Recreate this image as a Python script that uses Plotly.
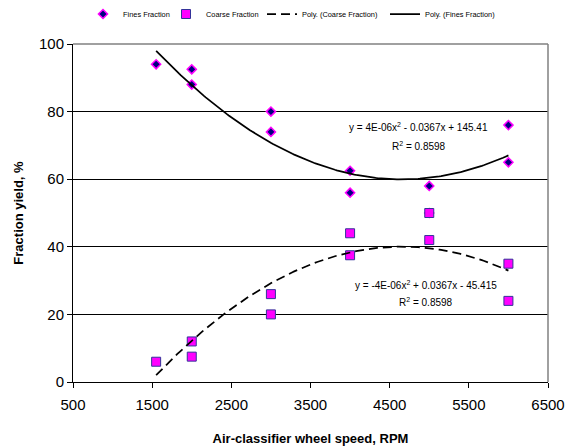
import numpy as np
import plotly.graph_objects as go

# Data
speed = [1550, 2000, 2000, 3000, 3000, 4000, 4000, 5000, 5000, 6000, 6000]
fines = [94, 92.5, 88, 80, 74, 62.5, 56, 58, 50, 76, 65]
coarse = [6, 7.5, 12, 20, 26, 37.5, 44, 42, 50, 24, 35]

x_ticks = [500, 1500, 2500, 3500, 4500, 5500, 6500]
y_ticks = [0, 20, 40, 60, 80, 100]

# 2nd-order trendline coefficients (a, b, c)
fines_trend = [3.94e-06, -0.0367, 145.41]
coarse_trend = [-3.94e-06, 0.0367, -45.415]

eq_fines = ["y = 4E-06x<sup>2</sup> - 0.0367x + 145.41", "R<sup>2</sup> = 0.8598"]
eq_coarse = ["y = -4E-06x<sup>2</sup> + 0.0367x - 45.415", "R<sup>2</sup> = 0.8598"]

xs = np.linspace(min(speed), max(speed), 200)
fit_f = np.polyval(fines_trend, xs)
fit_c = np.polyval(coarse_trend, xs)

FONT = "Liberation Sans, Arial, sans-serif"
W, H = 566, 438  # page body has an 8px margin

fig = go.Figure()
fig.add_trace(go.Scatter(
    x=speed, y=fines, mode="markers", name="Fines Fraction", legend="legend",
    marker=dict(symbol="diamond", size=7, color="#000080",
                line=dict(color="#FF00FF", width=1.5))))
fig.add_trace(go.Scatter(
    x=speed, y=coarse, mode="markers", name="Coarse Fraction", legend="legend2",
    marker=dict(symbol="square", size=9, color="#FF00FF",
                line=dict(color="#333399", width=1))))
fig.add_trace(go.Scatter(
    x=xs, y=fit_c, mode="lines", name="Poly. (Coarse Fraction)", legend="legend3",
    line=dict(color="black", width=1.75, dash="9px,5px")))
fig.add_trace(go.Scatter(
    x=xs, y=fit_f, mode="lines", name="Poly. (Fines Fraction)", legend="legend4",
    line=dict(color="black", width=1.75)))

for txt, xv, yv in [(eq_fines[0], 4870, 75.5), (eq_fines[1], 4870, 69.9),
                    (eq_coarse[0], 4960, 28.7), (eq_coarse[1], 4960, 23.8)]:
    fig.add_annotation(x=xv, y=yv, xref="x", yref="y", text=txt,
                       showarrow=False, align="center",
                       font=dict(family=FONT, size=10, color="black"))

# plot-area border (top and right) in grey
fig.add_shape(type="line", xref="paper", yref="paper", x0=0, x1=1, y0=1, y1=1,
              line=dict(color="#808080", width=1.5))
fig.add_shape(type="line", xref="paper", yref="paper", x0=1, x1=1, y0=0, y1=1,
              line=dict(color="#808080", width=1.5))

def leg(xpx):
    return dict(orientation="h", xref="container", yref="container",
                x=xpx / W, xanchor="left", y=1 - 6 / H, yanchor="middle",
                bgcolor="rgba(0,0,0,0)", borderwidth=0,
                font=dict(family=FONT, size=7.4, color="black"),
                itemwidth=30)

fig.update_layout(
    width=W, height=H,
    margin=dict(l=65, r=26, t=36, b=64, autoexpand=False),
    paper_bgcolor="white", plot_bgcolor="white",
    font=dict(family=FONT, color="black"),
    showlegend=True,
    legend=leg(75), legend2=leg(158), legend3=leg(254), legend4=leg(377),
    xaxis=dict(range=[500, 6500], tickvals=x_ticks,
               showgrid=False, zeroline=False,
               showline=True, linecolor="black", linewidth=1,
               ticks="outside", ticklen=5, tickcolor="black",
               ticklabelstandoff=4,
               tickfont=dict(size=15),
               title=dict(text="<b>Air-classifier wheel speed, RPM</b>",
                          font=dict(size=13), standoff=22)),
    yaxis=dict(range=[0, 100], tickvals=y_ticks,
               showgrid=True, gridcolor="black", gridwidth=1,
               zeroline=False,
               showline=True, linecolor="black", linewidth=1,
               ticks="outside", ticklen=5, tickcolor="black",
               tickfont=dict(size=15),
               title=dict(text="<b>Fraction yield, %</b>",
                          font=dict(size=13), standoff=12)),
)

fig.write_html("out.html")
